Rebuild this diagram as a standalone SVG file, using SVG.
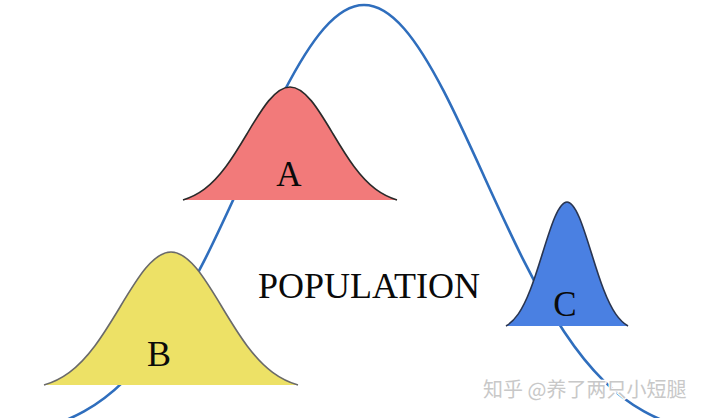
<svg xmlns="http://www.w3.org/2000/svg" width="720" height="418" viewBox="0 0 720 418">
<style>
.pop{fill:none;stroke:#2f6ebd;stroke-width:2.6;stroke-linecap:round}
.bell{stroke-width:1.6;stroke-linejoin:round}
.lbl{font-family:"Liberation Serif","Times New Roman",serif;fill:#0a0a0a;text-anchor:middle}
.wm{font-family:"Noto Sans CJK SC","Liberation Sans",sans-serif;font-size:20px;fill:#c8c8c8;stroke:#fff;stroke-width:2.5;paint-order:stroke}
</style>
<rect width="720" height="418" fill="#fff"/>
<g id="population">
<path class="pop" d="M 44 427.6 C 57.33 423.92, 70.67 418.81, 84 411.4 C 97.33 403.99, 110.67 394.19, 124 381.1 C 137.33 368.01, 150.67 351.59, 164 331.5 C 177.33 311.41, 190.67 287.69, 204 261.2 C 217.33 234.71, 230.67 205.51, 244 176.2 C 257.33 146.89, 270.67 117.5, 284 91.7 C 297.33 65.9, 310.67 43.74, 324 28.5 C 337.33 13.26, 350.67 5, 364 5 C 377.33 5, 390.67 13.26, 404 28.5 C 417.33 43.74, 430.67 65.9, 444 91.7 C 457.33 117.5, 470.67 146.89, 484 176.2 C 497.33 205.51, 510.67 234.71, 524 261.2 C 537.33 287.69, 550.67 311.41, 564 331.5 C 577.33 351.59, 590.67 368.01, 604 381.1 C 617.33 394.19, 630.67 403.99, 644 411.4 C 657.33 418.81, 670.67 423.92, 684 427.6"/>
<text class="lbl" x="369" y="298" font-size="36">POPULATION</text>
</g>
<g id="A">
<path class="bell" fill="#f27a7a" stroke="#2a2a2a" d="M 183 200 C 190.13 197.84 197.27 194.53 204.4 189.2 C 211.53 183.87 218.67 176.41 225.8 166.81 C 232.93 157.21 240.07 145.45 247.2 133.5 C 254.33 121.55 261.47 109.57 268.6 100.88 C 275.73 92.19 282.87 86.99 290 86.99 C 297.13 86.99 304.27 92.19 311.4 100.88 C 318.530 109.57 325.67 121.55 332.8 133.5 C 339.93 145.45 347.07 157.21 354.2 166.81 C 361.33 176.41 368.47 183.87 375.6 189.2 C 382.73 194.53 389.87 197.84 397 200"/>
<text class="lbl" x="289" y="186" font-size="35">A</text>
</g>
<g id="B">
<path class="bell" fill="#ede166" stroke="#6a6a6a" d="M 44 385 C 52.47 382.45 60.93 378.56 69.4 372.29 C 77.87 366.01 86.33 357.24 94.8 345.94 C 103.27 334.65 111.73 320.8 120.2 306.74 C 128.67 292.68 137.13 278.57 145.6 268.35 C 154.07 258.13 162.53 252 171 252 C 179.47 252 187.93 258.13 196.4 268.35 C 204.87 278.57 213.33 292.68 221.8 306.74 C 230.27 320.8 238.73 334.65 247.2 345.94 C 255.67 357.24 264.13 366.01 272.6 372.29 C 281.07 378.56 289.53 382.45 298 385"/>
<text class="lbl" x="159" y="366" font-size="36">B</text>
</g>
<g id="C">
<path class="bell" fill="#4a80e2" stroke="#2a3550" d="M 506 326 C 510.07 323.63 514.13 319.99 518.2 314.15 C 522.27 308.3 526.33 300.11 530.4 289.58 C 534.47 279.05 538.53 266.14 542.6 253.03 C 546.67 239.92 550.73 226.77 554.8 217.23 C 558.87 207.7 562.93 201.99 567 201.99 C 571.07 201.99 575.13 207.7 579.2 217.23 C 583.27 226.77 587.33 239.92 591.4 253.03 C 595.47 266.14 599.53 279.05 603.6 289.58 C 607.67 300.11 611.73 308.3 615.8 314.15 C 619.87 319.99 623.93 323.63 628 326"/>
<text class="lbl" x="565" y="316" font-size="35">C</text>
</g>
<text class="wm" x="483" y="397">知乎 @养了两只小短腿</text>
</svg>
